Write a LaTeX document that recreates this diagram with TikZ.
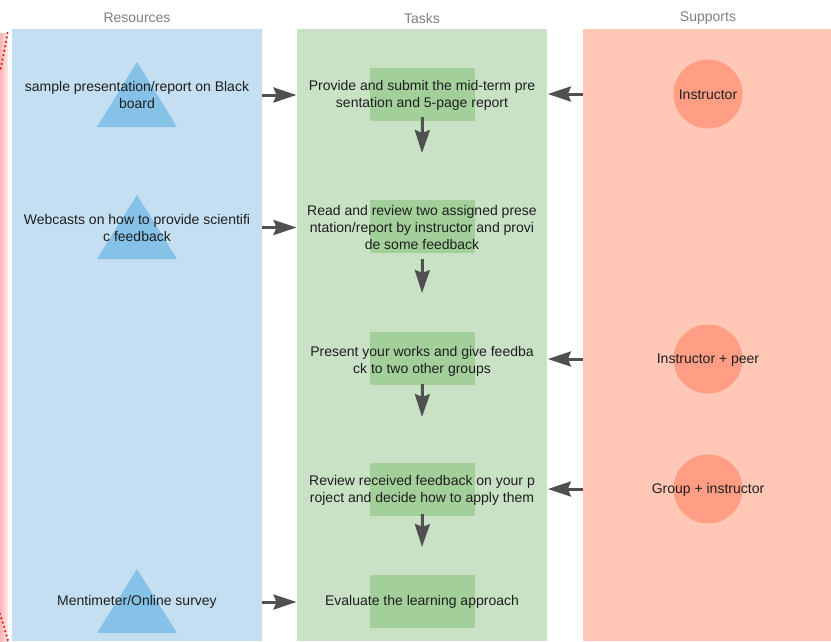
\documentclass[tikz,border=0pt]{standalone}
\usepackage{fontspec}
\setmainfont{Liberation Sans}
\usetikzlibrary{arrows.meta,shapes.geometric}

\definecolor{resbg}{HTML}{C5DFF2}
\definecolor{restri}{HTML}{86C2E7}
\definecolor{taskbg}{HTML}{C9E2C6}
\definecolor{taskbox}{HTML}{A3D09A}
\definecolor{supbg}{HTML}{FFC8B6}
\definecolor{supdot}{HTML}{FF9E84}
\definecolor{headgray}{HTML}{7F7F7F}
\definecolor{inkdark}{HTML}{1E1E1E}
\definecolor{arrowgray}{HTML}{505050}
\definecolor{edgepink}{HTML}{FFB4B4}
\definecolor{edgered}{HTML}{F01010}

\tikzset{
  lane/.style={draw=none, anchor=north west, minimum width=250pt, minimum height=612pt, inner sep=0pt},
  lanehead/.style={text=headgray, font=\fontsize{14}{17}\selectfont, inner sep=0pt},
  txt/.style={text=inkdark, font=\fontsize{14}{17}\selectfont, align=center, inner sep=0pt},
  taskrect/.style={fill=taskbox, draw=none, minimum width=105pt, minimum height=53pt, inner sep=0pt},
  supcircle/.style={circle, fill=supdot, draw=none, minimum size=69pt, inner sep=0pt},
  restriangle/.style={fill=restri, draw=none},
  arr/.style={draw=arrowgray, line width=3pt, -{Stealth[length=23pt,width=15pt,inset=3pt]}},
  reddots/.style={draw=edgered, line width=2.4pt, line cap=round, dash pattern=on 0pt off 4.5pt},
}

\begin{document}
\begin{tikzpicture}[x=1pt,y=-1pt]
\useasboundingbox (0,0) rectangle (831,641);
\fill[white] (0,0) rectangle (831,641);

% pink margin with dotted red edge on the far left
\shade[left color=edgepink, right color=edgepink!25] (0,33) rectangle (8,641);
\draw[reddots] (7.5,33) .. controls (5,48) .. (0,72);
\draw[reddots] (0,614) .. controls (4,626) .. (8,641);

% swimlanes
\node[lane, fill=resbg] (rescol) at (12,29) {};
\node[lane, fill=taskbg] (taskcol) at (297,29) {};
\node[lane, fill=supbg, minimum width=248pt] (supcol) at (583,29) {};

\node[lanehead] (reshead) at (137,18) {Resources};
\node[lanehead] (taskhead) at (422,18) {Tasks};
\node[lanehead] (suphead) at (708,18) {Supports};

% resources: triangles with labels on top
\fill[restriangle] (137,62) -- (177,127) -- (97,127) -- cycle;
\fill[restriangle] (137,195) -- (177,259) -- (97,259) -- cycle;
\fill[restriangle] (137,569) -- (177,633) -- (97,633) -- cycle;
\node[txt] (r1) at (137,95) {sample presentation/report on Black\\board};
\node[txt] (r2) at (137,227.5) {Webcasts on how to provide scientifi\\c feedback};
\node[txt] (r3) at (137,602) {Mentimeter/Online survey};

% tasks: boxes with labels on top
\node[taskrect] (t1box) at (422.5,94.5) {};
\node[taskrect] (t2box) at (422.5,226.5) {};
\node[taskrect] (t3box) at (422.5,358.5) {};
\node[taskrect] (t4box) at (422.5,489.5) {};
\node[taskrect] (t5box) at (422.5,601) {};
\node[txt] (t1) at (422,95) {Provide and submit the mid-term pre\\sentation and 5-page report};
\node[txt] (t2) at (422,227.5) {Read and review two assigned prese\\ntation/report by instructor and provi\\de some feedback};
\node[txt] (t3) at (422,361) {Present your works and give feedba\\ck to two other groups};
\node[txt] (t4) at (422,490) {Review received feedback on your p\\roject and decide how to apply them};
\node[txt] (t5) at (422,602) {Evaluate the learning approach};

% supports: circles with labels on top
\node[supcircle] (s1box) at (708,94) {};
\node[supcircle] (s3box) at (708,359) {};
\node[supcircle] (s4box) at (708,489) {};
\node[txt] (s1) at (708,95) {Instructor};
\node[txt] (s3) at (708,360) {Instructor + peer};
\node[txt] (s4) at (708,490) {Group + instructor};

% free ends of the downward arrows
\coordinate (d1) at (422,153);
\coordinate (d2) at (422,293);
\coordinate (d3) at (422,417);
\coordinate (d4) at (422,547);

% resources -> tasks
\draw[arr] (rescol.east |- r1) -- ([xshift=-0.5pt]taskcol.west |- r1);
\draw[arr] (rescol.east |- r2) -- ([xshift=-0.5pt]taskcol.west |- r2);
\draw[arr] (rescol.east |- r3) -- ([xshift=-0.5pt]taskcol.west |- r3);

% supports -> tasks
\draw[arr] (supcol.west |- s1box) -- ([xshift=0.5pt]taskcol.east |- s1box);
\draw[arr] (supcol.west |- s3box) -- ([xshift=0.5pt]taskcol.east |- s3box);
\draw[arr] (supcol.west |- s4box) -- ([xshift=0.5pt]taskcol.east |- s4box);

% task sequence (y axis points down, so a positive yshift moves up)
\draw[arr] ([yshift=4pt]t1box.south) -- (d1);
\draw[arr] ([yshift=-6pt]t2box.south) -- (d2);
\draw[arr] ([yshift=1pt]t3box.south) -- (d3);
\draw[arr] ([yshift=2pt]t4box.south) -- (d4);
\end{tikzpicture}
\end{document}
